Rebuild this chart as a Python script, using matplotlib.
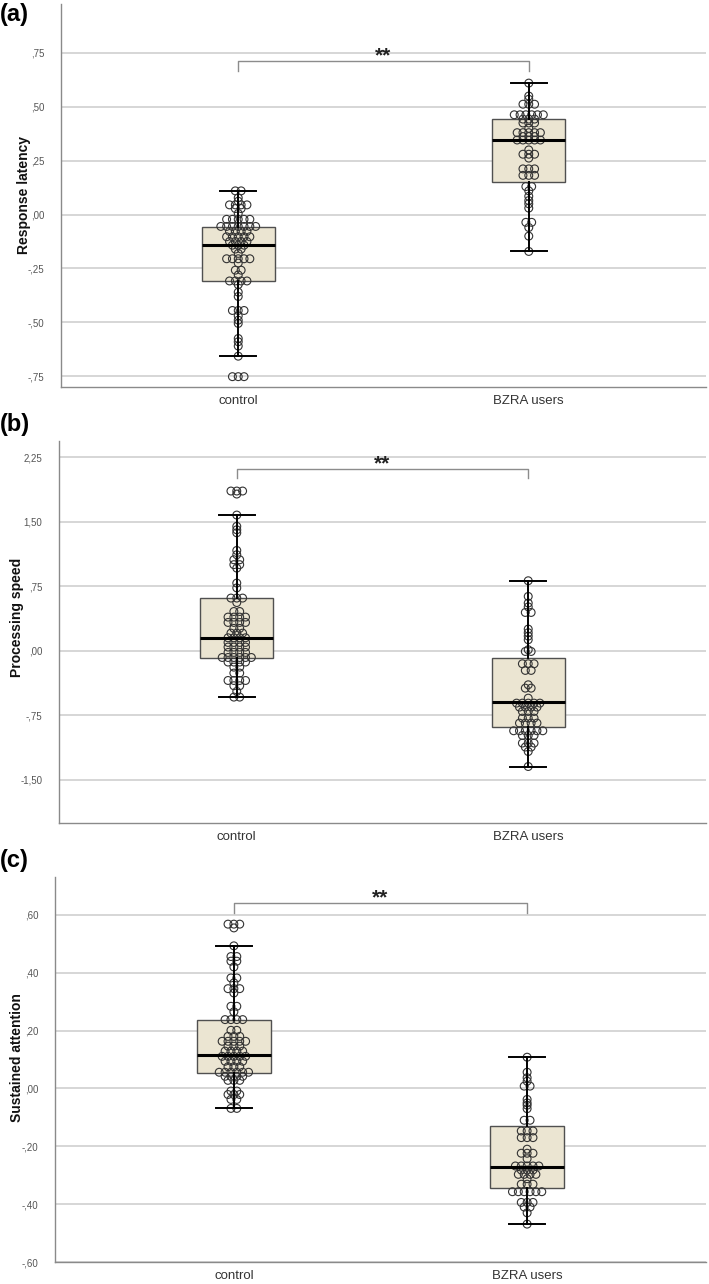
import numpy as np
import matplotlib.pyplot as plt
from matplotlib.ticker import FuncFormatter

plt.rcParams['font.family'] = ['Liberation Sans', 'DejaVu Sans']

groups = ['control', 'BZRA users']

# (a) Response latency
lat_control = ([0.11] * 2 + [0.078, 0.062] + [0.045] * 4 + [0.028] * 2 + [0.005]
               + [-0.022] * 5 + [-0.055] * 7 + [-0.078] * 4 + [-0.103] * 5
               + [-0.125] * 4 + [-0.142] * 3 + [-0.16] * 2 + [-0.18] + [-0.205] * 5
               + [-0.225] + [-0.258] * 2 + [-0.28] + [-0.308] * 4 + [-0.325, -0.36, -0.38]
               + [-0.445] * 3 + [-0.47, -0.49, -0.505, -0.575, -0.59, -0.61, -0.657]
               + [-0.752] * 3)
lat_bzra = ([0.61, 0.55, 0.535] + [0.512] * 3 + [0.463] * 6 + [0.443] * 3 + [0.425] * 3
            + [0.40] + [0.38] * 5 + [0.362] * 3 + [0.346] * 5 + [0.30] + [0.28] * 3
            + [0.262] + [0.212] * 3 + [0.182] * 3 + [0.13] * 2
            + [0.11, 0.085, 0.065, 0.05, 0.03] + [-0.036] * 2 + [-0.06, -0.10, -0.171])
lat_box = [(-0.306, -0.139, -0.056, -0.657, 0.111), (0.153, 0.347, 0.444, -0.171, 0.611)]

# (b) Processing speed
spd_control = ([1.855] * 3 + [1.82, 1.576, 1.445, 1.405, 1.37, 1.165, 1.115] + [1.057] * 2
               + [1.0] * 2 + [0.96, 0.786, 0.73] + [0.612] * 3 + [0.56] + [0.456] * 2
               + [0.391] * 4 + [0.329] * 4 + [0.26] * 2 + [0.205] * 3 + [0.151] * 4
               + [0.097] * 4 + [0.043] * 4 + [-0.019] * 4 + [-0.078] * 6 + [-0.131] * 4
               + [-0.19] * 2 + [-0.259] * 2 + [-0.345] * 4 + [-0.406] * 2 + [-0.472]
               + [-0.538] * 2)
spd_bzra = ([0.813, 0.631, 0.554, 0.51] + [0.445] * 2 + [0.252, 0.21, 0.17, 0.128, 0.012]
            + [-0.008] * 2 + [-0.151] * 3 + [-0.228] * 2 + [-0.395] + [-0.434] * 2
            + [-0.55] + [-0.608] * 5 + [-0.654] * 4 + [-0.705] * 3 + [-0.782] * 3
            + [-0.84] * 4 + [-0.929] * 6 + [-0.983] * 3 + [-1.072] * 3 + [-1.118] * 2
            + [-1.17, -1.344])
spd_box = [(-0.081, 0.151, 0.616, -0.534, 1.58), (-0.88, -0.60, -0.081, -1.35, 0.81)]

# (c) Sustained attention
att_control = ([0.568] * 3 + [0.555, 0.493] + [0.456] * 2 + [0.44] * 2 + [0.42]
               + [0.382] * 2 + [0.365] + [0.345] * 3 + [0.33] + [0.284] * 2 + [0.265]
               + [0.238] * 4 + [0.201] * 2 + [0.18] * 3 + [0.163] * 5 + [0.146] * 3
               + [0.129] * 4 + [0.111] * 5 + [0.094] * 4 + [0.075] * 3 + [0.056] * 6
               + [0.042] * 4 + [0.028] * 3 + [-0.009] * 2 + [-0.021] * 3 + [-0.038] * 2
               + [-0.069] * 2)
att_bzra = ([0.108, 0.056, 0.037, 0.025] + [0.008] * 2 + [-0.038, -0.05, -0.058, -0.07]
            + [-0.11] * 2 + [-0.147] * 3 + [-0.17] * 3 + [-0.21] + [-0.224] * 3 + [-0.243]
            + [-0.268] * 5 + [-0.282] * 3 + [-0.297] * 4 + [-0.312] + [-0.331] * 3
            + [-0.357] * 6 + [-0.394] * 3 + [-0.41] * 2 + [-0.43, -0.469])
att_box = [(0.055, 0.114, 0.238, -0.069, 0.493), (-0.345, -0.272, -0.131, -0.469, 0.107)]

BOX_FILL = '#ebe5d2'


def comma_fmt(v, pos=None):
    s = '%.2f' % v
    s = s.replace('.', ',')
    if s.startswith('0,'):
        s = s[1:]
    elif s.startswith('-0,'):
        s = '-' + s[2:]
    return s


def dot_offsets(vals, step=0.02):
    # stack equal values side by side, centred on the category
    vals = np.round(np.asarray(vals, dtype=float), 4)
    xo = np.zeros(len(vals))
    for v in np.unique(vals):
        idx = np.where(vals == v)[0]
        n = len(idx)
        xo[idx] = (np.arange(n) - (n - 1) / 2) * step
    return vals, xo


def panel(rect, ctrl, bzra, box, ylim, yticks, ylabel, sig, lab_x, lab_y):
    ax = fig.add_axes(rect)
    ax.set_xlim(-0.61, 1.61)
    ax.set_ylim(*ylim)
    ax.set_yticks(yticks)
    ax.yaxis.set_major_formatter(FuncFormatter(comma_fmt))
    ax.grid(axis='y', color='#d3d3d3', lw=1.3, zorder=0)
    ax.set_axisbelow(True)

    stats = []
    for (q1, med, q3, lo, hi), name in zip(box, groups):
        stats.append(dict(q1=q1, med=med, q3=q3, whislo=lo, whishi=hi,
                          fliers=[], label=name))
    bp = ax.bxp(stats, positions=[0, 1], widths=0.25, patch_artist=True,
                showfliers=False,
                boxprops=dict(facecolor=BOX_FILL, edgecolor='#505050', lw=1.0),
                medianprops=dict(color='black', lw=2.2),
                whiskerprops=dict(color='black', lw=1.4),
                capprops=dict(color='black', lw=1.4))
    for b in bp['boxes']:
        b.set_zorder(2)
    for k in ('medians', 'whiskers', 'caps'):
        for ln in bp[k]:
            ln.set_zorder(4)

    for pos, data in ((0, ctrl), (1, bzra)):
        yv, xo = dot_offsets(data)
        ax.scatter(pos + xo, yv, s=32, facecolors='none', edgecolors='#333333',
                   linewidths=0.8, zorder=3)

    # significance bracket
    top, drop = sig
    ax.plot([0, 0, 1, 1], [drop, top, top, drop], color='#8c8c8c', lw=1.0,
            zorder=1, clip_on=False)
    ax.annotate('**', xy=(0.5, top), xytext=(0, -3), textcoords='offset points',
                ha='center', va='bottom', fontsize=15, fontweight='bold',
                color='#222222')

    for s in ('top', 'right'):
        ax.spines[s].set_visible(False)
    for s in ('left', 'bottom'):
        ax.spines[s].set_color('#8a8a8a')
        ax.spines[s].set_linewidth(1.0)
    ax.tick_params(axis='y', length=0, labelsize=7, labelcolor='#555555', pad=12)
    ax.tick_params(axis='x', length=0, labelsize=9.5, labelcolor='#333333', pad=6)
    ax.set_xticks([0, 1])
    ax.set_xticklabels(groups)
    ax.set_ylabel(ylabel, fontsize=10, fontweight='bold', color='#111111')
    ax.yaxis.set_label_coords(lab_x, lab_y)
    return ax


fig = plt.figure(figsize=(7.09, 12.84), dpi=100)

panel([61 / 709, 1 - 387 / 1284, 645 / 709, 383 / 1284], lat_control, lat_bzra, lat_box,
      (-0.80, 0.977), np.arange(-0.75, 0.76, 0.25), 'Response latency',
      (0.713, 0.667), -0.046, 0.5)
panel([59 / 709, 1 - 823 / 1284, 647 / 709, 382 / 1284], spd_control, spd_bzra, spd_box,
      (-2.0, 2.436), np.arange(-1.5, 2.26, 0.75), 'Processing speed',
      (2.114, 2.009), -0.054, 0.537)
panel([55 / 709, 1 - 1262 / 1284, 651 / 709, 385 / 1284], att_control, att_bzra, att_box,
      (-0.60, 0.731), np.arange(-0.6, 0.61, 0.2), 'Sustained attention',
      (0.641, 0.607), -0.047, 0.53)

for txt, yy in (('(a)', 15), ('(b)', 424), ('(c)', 860)):
    fig.text(0.0, 1 - yy / 1284, txt, fontsize=17, fontweight='bold',
             ha='left', va='center')

fig.savefig('out.png', dpi=100)
